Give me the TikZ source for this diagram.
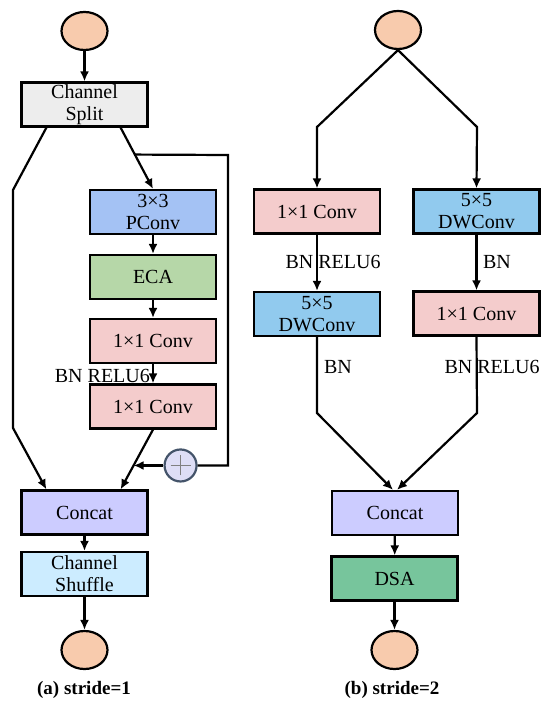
\documentclass[tikz,border=0pt]{standalone}
\usepackage{fontspec}
\setmainfont{Liberation Serif}
\usetikzlibrary{arrows.meta,positioning,calc,shapes.geometric}
\definecolor{peach}{HTML}{F8CBAD}
\definecolor{splitgray}{HTML}{EDEDED}
\definecolor{pconvblue}{HTML}{A4C2F4}
\definecolor{ecagreen}{HTML}{B6D7A8}
\definecolor{convpink}{HTML}{F4CCCC}
\definecolor{catviolet}{HTML}{CCCCFF}
\definecolor{shufcyan}{HTML}{CCECFF}
\definecolor{dwblue}{HTML}{91CAEE}
\definecolor{dsagreen}{HTML}{77C59C}
\definecolor{addfill}{HTML}{DEDEF6}
\definecolor{addedge}{HTML}{44546A}

\begin{document}
\begin{tikzpicture}[x=1pt,y=-1pt,line width=2.2pt,
  >={Latex[length=10pt,width=9pt]},
  box/.style={draw,minimum width=126pt,minimum height=44pt,inner sep=1pt,
    align=center,font=\fontsize{20}{22}\selectfont},
  port/.style={draw,ellipse,fill=peach,minimum width=46pt,minimum height=38pt,inner sep=0pt},
  lbl/.style={inner sep=0pt,font=\fontsize{20}{22}\selectfont},
  captext/.style={inner sep=0pt,font=\bfseries\fontsize{19}{22}\selectfont},
  addnode/.style={circle,draw=addedge,fill=addfill,minimum size=32pt,inner sep=0pt,
    path picture={
      \draw[line width=0.7pt,gray] ([xshift=-10pt]path picture bounding box.center)
        -- ([xshift=10pt]path picture bounding box.center);
      \draw[line width=0.7pt,gray] ([yshift=-10pt]path picture bounding box.center)
        -- ([yshift=10pt]path picture bounding box.center);}}]
\useasboundingbox (0,0) rectangle (550,711);

% (a) stride=1
\node[port] (inA) at (84.5,31) {};
\node[box,fill=splitgray] (split) at (84.5,104.5) {Channel\\Split};
\node[box,fill=pconvblue] (pconv) at (153,212) {3×3\\PConv};
\node[box,fill=ecagreen] (eca) at (153,277) {ECA};
\node[box,fill=convpink] (conva) at (153,341) {1×1 Conv};
\node[box,fill=convpink] (convb) at (153,406.5) {1×1 Conv};
\node[box,fill=catviolet] (concat) at (84.5,512.5) {Concat};
\node[box,fill=shufcyan] (shuffle) at (84.5,574) {Channel\\Shuffle};
\node[port] (outA) at (84.5,650) {};
\node[lbl,anchor=east] (bnA) at (151,376) {BN RELU6};
\node[captext] (capA) at (84,690) {(a) stride=1};

\coordinate (lA) at (13,190);
\coordinate (lB) at (13,428);
\coordinate (fbs) at ($([xshift=-28pt]split.south east)!0.44!(pconv.north)$);
\coordinate (fbc) at (228,155);
\coordinate (join) at ($(convb.south)!0.6!([xshift=-28pt]concat.north east)$);
\node[addnode] (add) at ($(join)+(47,0)$) {};

\draw[->] (inA) -- (split);
\draw[->] ([xshift=26pt]split.south west) -- (lA) -- (lB) -- ([xshift=26pt]concat.north west);
\draw[->] ([xshift=-28pt]split.south east) -- (pconv.north);
\draw[->] (pconv) -- (eca);
\draw[->] (eca) -- (conva);
\draw[->] (conva) -- (convb);
\draw[->] (convb.south) -- ([xshift=-28pt]concat.north east);
\draw (fbs) -- (fbc) |- (add);
\draw[->] (add) -- (join);
\draw[->] (concat) -- (shuffle);
\draw[->] (shuffle) -- (outA);

% (b) stride=2
\node[port] (inB) at (398,30) {};
\node[box,fill=convpink] (c1) at (317,211.5) {1×1 Conv};
\node[box,fill=dwblue] (dw1) at (476.5,211.5) {5×5\\DWConv};
\node[box,fill=dwblue] (dw2) at (317,314) {5×5\\DWConv};
\node[box,fill=convpink] (c2) at (476.5,313.5) {1×1 Conv};
\node[box,fill=catviolet] (concatb) at (395,513) {Concat};
\node[box,fill=dsagreen] (dsa) at (394.5,578.5) {DSA};
\node[port] (outB) at (394.5,650) {};
\node[lbl] (bnB) at (333,262) {BN RELU6};
\node[lbl] (bnC) at (497,262) {BN};
\node[lbl] (bnD) at (338,367) {BN};
\node[lbl] (bnE) at (492,367) {BN RELU6};
\node[captext] (capB) at (392,690) {(b) stride=2};

\coordinate (rl) at (317,127);
\coordinate (rr) at (477,127);
\coordinate (rl2) at (317,413);
\coordinate (rr2) at (477,413);

\draw[->] (inB.south) -- (rl) -- (c1.north);
\draw[->] (inB.south) -- (rr) -- (dw1.north);
\draw[->] (c1) -- (dw2);
\draw[->] (dw1) -- (c2);
\draw[->] (dw2.south) -- (rl2) -- ([xshift=-2pt]concatb.north);
\draw[->] (c2.south) -- (rr2) -- ([xshift=2pt]concatb.north);
\draw[->] (concatb) -- (dsa);
\draw[->] (dsa) -- (outB);
\end{tikzpicture}
\end{document}
